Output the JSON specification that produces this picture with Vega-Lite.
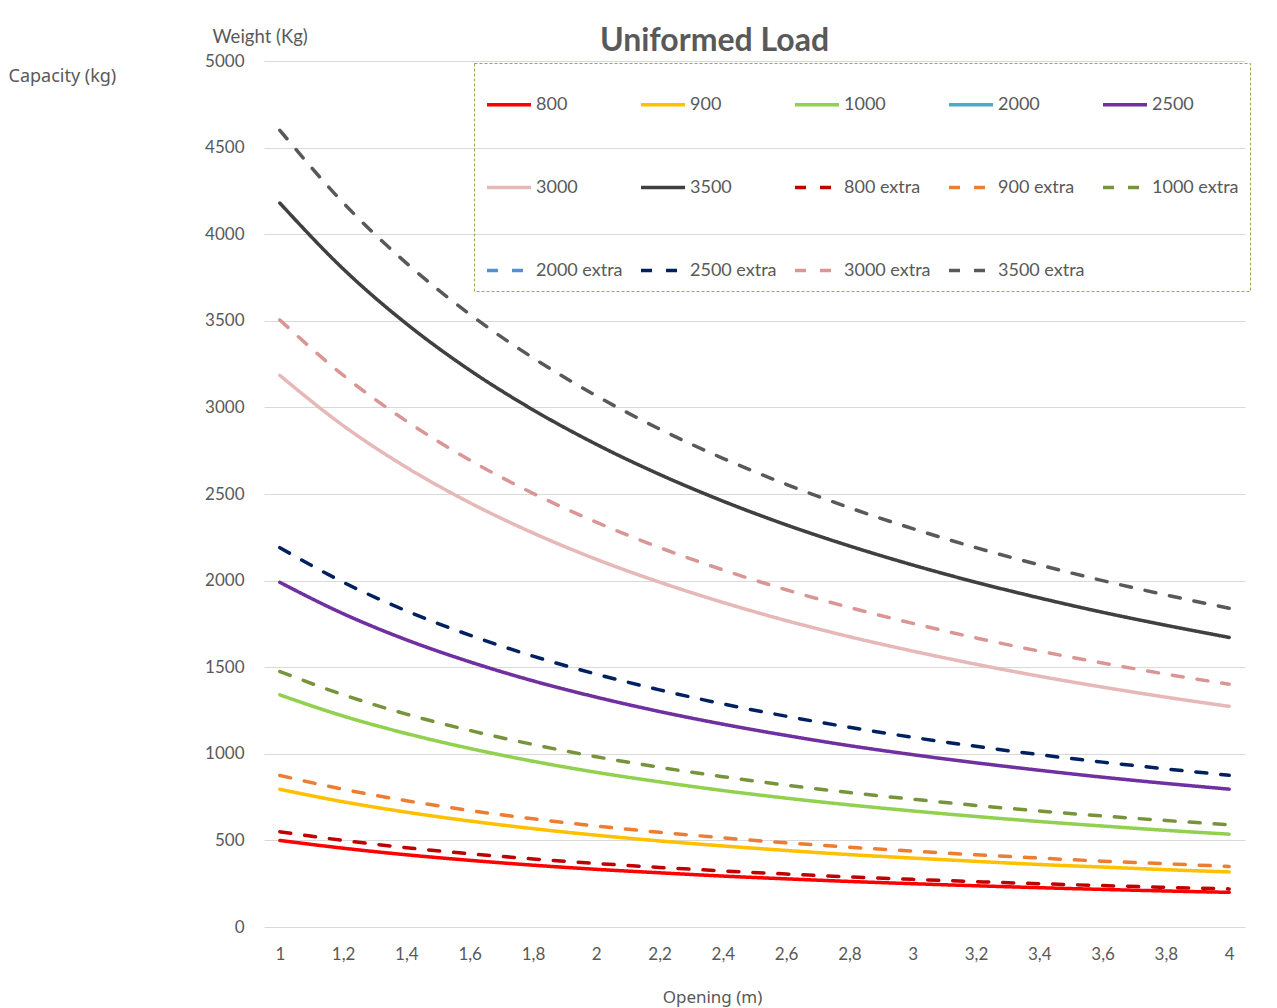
{
  "$schema": "https://vega.github.io/schema/vega-lite/v6.json",
  "width": 981,
  "height": 866,
  "autosize": "none",
  "padding": {"left": 264, "top": 61, "right": 32, "bottom": 81},
  "background": "white",
  "title": {
    "text": "Uniformed Load",
    "anchor": "middle",
    "frame": "group",
    "dx": -40,
    "dy": 31,
    "offset": 0,
    "font": "Lato",
    "fontSize": 32,
    "fontWeight": "bold",
    "color": "#595959"
  },
  "data": {
    "values": [
      {"x":1,"s":"800","y":500},{"x":1.2,"s":"800","y":455},{"x":1.4,"s":"800","y":417},{"x":1.6,"s":"800","y":385},{"x":1.8,"s":"800","y":357},{"x":2,"s":"800","y":333},{"x":2.2,"s":"800","y":313},{"x":2.4,"s":"800","y":294},{"x":2.6,"s":"800","y":278},{"x":2.8,"s":"800","y":263},{"x":3,"s":"800","y":250},{"x":3.2,"s":"800","y":238},{"x":3.4,"s":"800","y":227},{"x":3.6,"s":"800","y":217},{"x":3.8,"s":"800","y":208},{"x":4,"s":"800","y":200},
      {"x":1,"s":"900","y":795},{"x":1.2,"s":"900","y":723},{"x":1.4,"s":"900","y":663},{"x":1.6,"s":"900","y":612},{"x":1.8,"s":"900","y":568},{"x":2,"s":"900","y":530},{"x":2.2,"s":"900","y":497},{"x":2.4,"s":"900","y":468},{"x":2.6,"s":"900","y":442},{"x":2.8,"s":"900","y":418},{"x":3,"s":"900","y":398},{"x":3.2,"s":"900","y":379},{"x":3.4,"s":"900","y":361},{"x":3.6,"s":"900","y":346},{"x":3.8,"s":"900","y":331},{"x":4,"s":"900","y":318},
      {"x":1,"s":"1000","y":1340},{"x":1.2,"s":"1000","y":1218},{"x":1.4,"s":"1000","y":1117},{"x":1.6,"s":"1000","y":1031},{"x":1.8,"s":"1000","y":957},{"x":2,"s":"1000","y":893},{"x":2.2,"s":"1000","y":838},{"x":2.4,"s":"1000","y":788},{"x":2.6,"s":"1000","y":744},{"x":2.8,"s":"1000","y":705},{"x":3,"s":"1000","y":670},{"x":3.2,"s":"1000","y":638},{"x":3.4,"s":"1000","y":609},{"x":3.6,"s":"1000","y":583},{"x":3.8,"s":"1000","y":558},{"x":4,"s":"1000","y":536},
      {"x":1,"s":"2500","y":1990},{"x":1.2,"s":"2500","y":1809},{"x":1.4,"s":"2500","y":1658},{"x":1.6,"s":"2500","y":1531},{"x":1.8,"s":"2500","y":1421},{"x":2,"s":"2500","y":1327},{"x":2.2,"s":"2500","y":1244},{"x":2.4,"s":"2500","y":1171},{"x":2.6,"s":"2500","y":1106},{"x":2.8,"s":"2500","y":1047},{"x":3,"s":"2500","y":995},{"x":3.2,"s":"2500","y":948},{"x":3.4,"s":"2500","y":905},{"x":3.6,"s":"2500","y":865},{"x":3.8,"s":"2500","y":829},{"x":4,"s":"2500","y":796},
      {"x":1,"s":"3000","y":3185},{"x":1.2,"s":"3000","y":2895},{"x":1.4,"s":"3000","y":2654},{"x":1.6,"s":"3000","y":2450},{"x":1.8,"s":"3000","y":2275},{"x":2,"s":"3000","y":2123},{"x":2.2,"s":"3000","y":1991},{"x":2.4,"s":"3000","y":1874},{"x":2.6,"s":"3000","y":1769},{"x":2.8,"s":"3000","y":1676},{"x":3,"s":"3000","y":1593},{"x":3.2,"s":"3000","y":1517},{"x":3.4,"s":"3000","y":1448},{"x":3.6,"s":"3000","y":1385},{"x":3.8,"s":"3000","y":1327},{"x":4,"s":"3000","y":1274},
      {"x":1,"s":"3500","y":4180},{"x":1.2,"s":"3500","y":3800},{"x":1.4,"s":"3500","y":3483},{"x":1.6,"s":"3500","y":3215},{"x":1.8,"s":"3500","y":2986},{"x":2,"s":"3500","y":2787},{"x":2.2,"s":"3500","y":2613},{"x":2.4,"s":"3500","y":2459},{"x":2.6,"s":"3500","y":2322},{"x":2.8,"s":"3500","y":2200},{"x":3,"s":"3500","y":2090},{"x":3.2,"s":"3500","y":1990},{"x":3.4,"s":"3500","y":1900},{"x":3.6,"s":"3500","y":1817},{"x":3.8,"s":"3500","y":1742},{"x":4,"s":"3500","y":1672},
      {"x":1,"s":"800 extra","y":550},{"x":1.2,"s":"800 extra","y":500},{"x":1.4,"s":"800 extra","y":458},{"x":1.6,"s":"800 extra","y":423},{"x":1.8,"s":"800 extra","y":393},{"x":2,"s":"800 extra","y":367},{"x":2.2,"s":"800 extra","y":344},{"x":2.4,"s":"800 extra","y":324},{"x":2.6,"s":"800 extra","y":306},{"x":2.8,"s":"800 extra","y":289},{"x":3,"s":"800 extra","y":275},{"x":3.2,"s":"800 extra","y":262},{"x":3.4,"s":"800 extra","y":250},{"x":3.6,"s":"800 extra","y":239},{"x":3.8,"s":"800 extra","y":229},{"x":4,"s":"800 extra","y":220},
      {"x":1,"s":"900 extra","y":875},{"x":1.2,"s":"900 extra","y":795},{"x":1.4,"s":"900 extra","y":729},{"x":1.6,"s":"900 extra","y":673},{"x":1.8,"s":"900 extra","y":625},{"x":2,"s":"900 extra","y":583},{"x":2.2,"s":"900 extra","y":547},{"x":2.4,"s":"900 extra","y":515},{"x":2.6,"s":"900 extra","y":486},{"x":2.8,"s":"900 extra","y":461},{"x":3,"s":"900 extra","y":438},{"x":3.2,"s":"900 extra","y":417},{"x":3.4,"s":"900 extra","y":398},{"x":3.6,"s":"900 extra","y":380},{"x":3.8,"s":"900 extra","y":365},{"x":4,"s":"900 extra","y":350},
      {"x":1,"s":"1000 extra","y":1475},{"x":1.2,"s":"1000 extra","y":1341},{"x":1.4,"s":"1000 extra","y":1229},{"x":1.6,"s":"1000 extra","y":1135},{"x":1.8,"s":"1000 extra","y":1054},{"x":2,"s":"1000 extra","y":983},{"x":2.2,"s":"1000 extra","y":922},{"x":2.4,"s":"1000 extra","y":868},{"x":2.6,"s":"1000 extra","y":819},{"x":2.8,"s":"1000 extra","y":776},{"x":3,"s":"1000 extra","y":738},{"x":3.2,"s":"1000 extra","y":702},{"x":3.4,"s":"1000 extra","y":670},{"x":3.6,"s":"1000 extra","y":641},{"x":3.8,"s":"1000 extra","y":615},{"x":4,"s":"1000 extra","y":590},
      {"x":1,"s":"2500 extra","y":2190},{"x":1.2,"s":"2500 extra","y":1991},{"x":1.4,"s":"2500 extra","y":1825},{"x":1.6,"s":"2500 extra","y":1685},{"x":1.8,"s":"2500 extra","y":1564},{"x":2,"s":"2500 extra","y":1460},{"x":2.2,"s":"2500 extra","y":1369},{"x":2.4,"s":"2500 extra","y":1288},{"x":2.6,"s":"2500 extra","y":1217},{"x":2.8,"s":"2500 extra","y":1153},{"x":3,"s":"2500 extra","y":1095},{"x":3.2,"s":"2500 extra","y":1043},{"x":3.4,"s":"2500 extra","y":995},{"x":3.6,"s":"2500 extra","y":952},{"x":3.8,"s":"2500 extra","y":913},{"x":4,"s":"2500 extra","y":876},
      {"x":1,"s":"3000 extra","y":3505},{"x":1.2,"s":"3000 extra","y":3186},{"x":1.4,"s":"3000 extra","y":2921},{"x":1.6,"s":"3000 extra","y":2696},{"x":1.8,"s":"3000 extra","y":2504},{"x":2,"s":"3000 extra","y":2337},{"x":2.2,"s":"3000 extra","y":2191},{"x":2.4,"s":"3000 extra","y":2062},{"x":2.6,"s":"3000 extra","y":1947},{"x":2.8,"s":"3000 extra","y":1845},{"x":3,"s":"3000 extra","y":1753},{"x":3.2,"s":"3000 extra","y":1669},{"x":3.4,"s":"3000 extra","y":1593},{"x":3.6,"s":"3000 extra","y":1524},{"x":3.8,"s":"3000 extra","y":1460},{"x":4,"s":"3000 extra","y":1402},
      {"x":1,"s":"3500 extra","y":4600},{"x":1.2,"s":"3500 extra","y":4182},{"x":1.4,"s":"3500 extra","y":3833},{"x":1.6,"s":"3500 extra","y":3538},{"x":1.8,"s":"3500 extra","y":3286},{"x":2,"s":"3500 extra","y":3067},{"x":2.2,"s":"3500 extra","y":2875},{"x":2.4,"s":"3500 extra","y":2706},{"x":2.6,"s":"3500 extra","y":2556},{"x":2.8,"s":"3500 extra","y":2421},{"x":3,"s":"3500 extra","y":2300},{"x":3.2,"s":"3500 extra","y":2190},{"x":3.4,"s":"3500 extra","y":2091},{"x":3.6,"s":"3500 extra","y":2000},{"x":3.8,"s":"3500 extra","y":1917},{"x":4,"s":"3500 extra","y":1840}
    ]
  },
  "encoding": {
    "x": {
      "field": "x",
      "type": "quantitative",
      "scale": {"domain": [0.95, 4.05], "nice": false, "zero": false},
      "axis": {
        "values": [1, 1.2, 1.4, 1.6, 1.8, 2, 2.2, 2.4, 2.6, 2.8, 3, 3.2, 3.4, 3.6, 3.8, 4],
        "labelExpr": "replace(format(datum.value, '~g'), '.', ',')",
        "grid": false,
        "domain": false,
        "ticks": false,
        "tickSize": 0,
        "labelPadding": 19,
        "labelFont": "Lato",
        "labelFontSize": 17,
        "labelColor": "#595959",
        "title": "Opening (m)",
        "titleFont": "Noto Sans",
        "titleFontSize": 17,
        "titleFontWeight": "normal",
        "titleColor": "#595959",
        "titleX": 448,
        "titleY": 70,
        "titleAlign": "center",
        "titleBaseline": "middle"
      }
    }
  },
  "layer": [
    {
      "mark": {"type": "line", "strokeWidth": 3.5, "interpolate": "monotone", "strokeCap": "round", "strokeJoin": "round"},
      "encoding": {
        "y": {
          "field": "y",
          "type": "quantitative",
          "scale": {"domain": [0, 5000], "nice": false},
          "axis": {
            "values": [0, 500, 1000, 1500, 2000, 2500, 3000, 3500, 4000, 4500, 5000],
            "format": "d",
            "grid": true,
            "gridColor": "#d9d9d9",
            "gridWidth": 1,
            "domain": false,
            "ticks": false,
            "tickSize": 0,
            "labelPadding": 20,
            "labelFont": "Lato",
            "labelFontSize": 17,
            "labelColor": "#595959",
            "title": "Weight (Kg)",
            "titleFont": "Lato",
            "titleFontSize": 18.5,
            "titleFontWeight": "normal",
            "titleColor": "#595959",
            "titleAngle": 0,
            "titleAlign": "left",
            "titleBaseline": "middle",
            "titleX": -52,
            "titleY": -25
          }
        },
        "color": {
          "field": "s",
          "type": "nominal",
          "scale": {
            "domain": ["800", "900", "1000", "2000", "2500", "3000", "3500", "800 extra", "900 extra", "1000 extra", "2000 extra", "2500 extra", "3000 extra", "3500 extra"],
            "range": ["#FF0000", "#FFC000", "#92D050", "#4BACC6", "#7030A0", "#E6B9B8", "#404040", "#C00000", "#ED7D31", "#77933C", "#558ED5", "#002060", "#D99694", "#595959"]
          },
          "legend": {"title": null, "encoding": {"legend": {"strokeDash": {"value": [3, 2]}}}}
        },
        "strokeDash": {
          "field": "s",
          "type": "nominal",
          "scale": {
            "domain": ["800", "900", "1000", "2000", "2500", "3000", "3500", "800 extra", "900 extra", "1000 extra", "2000 extra", "2500 extra", "3000 extra", "3500 extra"],
            "range": [[1, 0], [1, 0], [1, 0], [1, 0], [1, 0], [1, 0], [1, 0], [11, 14], [11, 14], [11, 14], [11, 14], [11, 14], [11, 14], [11, 14]]
          },
          "legend": {"title": null, "encoding": {"legend": {"strokeDash": {"value": [3, 2]}}}}
        }
      }
    },
    {
      "mark": {"type": "line", "opacity": 0},
      "encoding": {
        "detail": {"field": "s"},
        "y": {
          "field": "y",
          "type": "quantitative",
          "scale": {"domain": [0, 5000], "nice": false},
          "axis": {
            "orient": "right",
            "grid": false,
            "labels": false,
            "domain": false,
            "ticks": false,
            "tickSize": 0,
            "title": "Capacity (kg)",
            "titleFont": "Noto Sans",
            "titleFontSize": 18,
            "titleFontWeight": "normal",
            "titleColor": "#595959",
            "titleAngle": 0,
            "titleAlign": "left",
            "titleBaseline": "middle",
            "titleX": -1237,
            "titleY": 15
          }
        }
      }
    }
  ],
  "resolve": {"axis": {"y": "independent"}},
  "config": {
    "view": {"stroke": null},
    "legend": {
      "orient": "none",
      "direction": "horizontal",
      "legendX": 210,
      "legendY": 2,
      "columns": 5,
      "gridAlign": "all",
      "columnPadding": 11,
      "rowPadding": 43,
      "padding": 11,
      "strokeColor": "#8CAA5A",
      "symbolType": "M-1,0H0.544",
      "symbolSize": 3249,
      "symbolStrokeWidth": 3.5,
      "labelFont": "Lato",
      "labelFontSize": 18,
      "labelColor": "#595959",
      "labelOffset": -10
    }
  }
}
